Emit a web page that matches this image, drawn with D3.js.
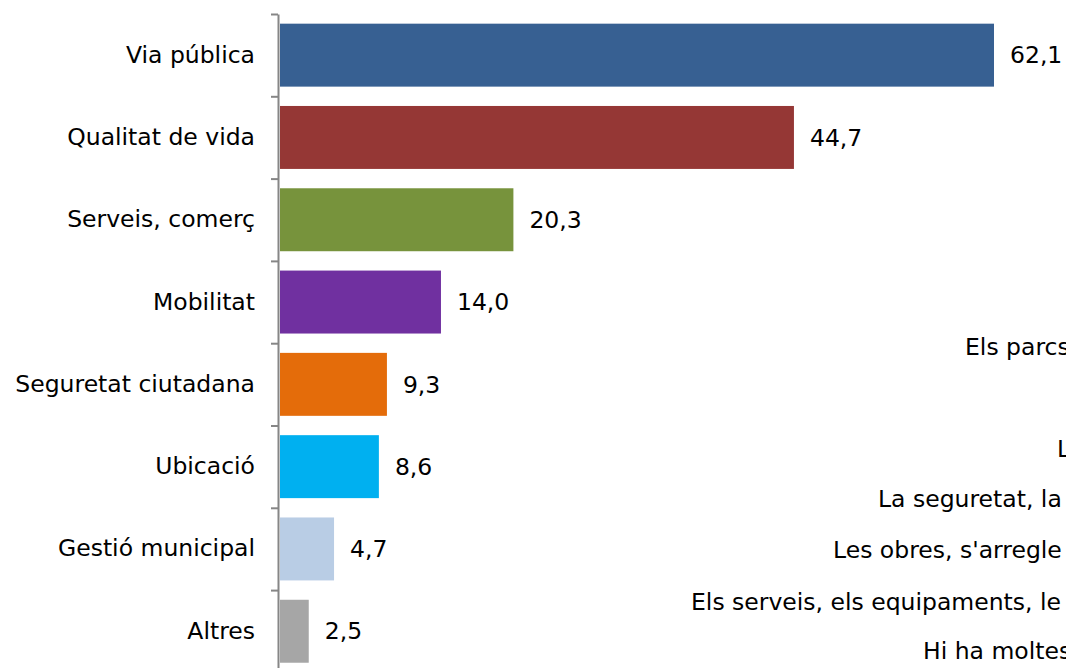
<!DOCTYPE html>
<html>
<head>
<meta charset="utf-8">
<script src="https://cdn.jsdelivr.net/npm/d3@7"></script>
<style>
html,body{margin:0;padding:0;background:#fff;overflow:hidden;}
svg{display:block;}
text{font-family:"DejaVu Sans",Verdana,sans-serif;}
</style>
</head>
<body>
<svg id="chart" width="1066" height="668"></svg>
<script>
const categories = ["Via pública","Qualitat de vida","Serveis, comerç","Mobilitat","Seguretat ciutadana","Ubicació","Gestió municipal","Altres"];
const values = [62.1, 44.7, 20.3, 14.0, 9.3, 8.6, 4.7, 2.5];
const barColors = ["#376092","#953735","#77933C","#7030A0","#E46C0A","#00B0F0","#B9CDE5","#A6A6A6"];
const sideTexts = ["Els parcs","L","La seguretat, la","Les obres, s'arregle","Els serveis, els equipaments, le","Hi ha moltes"];
const sideTextX = [965, 1057, 878, 833, 691, 923];
const sideTextY = [355, 457, 507, 558, 610, 659];

const FS = 23.5;
const svg = d3.select("#chart");
const plotTop = 14, step = 82.3;
const y = d3.scaleBand().domain(categories).range([plotTop, plotTop + step * categories.length]).paddingInner(0.235).paddingOuter(0.1175);
const x = d3.scaleLinear().domain([0, 62.1]).range([280, 994]);

// bars
svg.append("g").selectAll("rect").data(categories).join("rect")
  .attr("x", x(0))
  .attr("y", d => y(d))
  .attr("width", (d,i) => x(values[i]) - x(0))
  .attr("height", y.bandwidth())
  .attr("fill", (d,i) => barColors[i]);

// value labels
const fmt = v => d3.format(".1f")(v).replace(".", ",");
svg.append("g").selectAll("text").data(categories).join("text")
  .attr("x", (d,i) => x(values[i]) + 16)
  .attr("y", d => y(d) + y.bandwidth()/2)
  .attr("dy", "0.35em")
  .attr("font-size", FS)
  .attr("fill", "#000")
  .text((d,i) => fmt(values[i]));

// axis with category labels
const yAxis = svg.append("g").attr("transform", "translate(278,0)")
  .call(d3.axisLeft(y).tickSize(0).tickPadding(23));
yAxis.selectAll("text").attr("font-size", FS).attr("fill", "#000").style("font-family", "'DejaVu Sans',Verdana,sans-serif");
yAxis.select(".domain").remove();

// boundary ticks
const yIdx = d3.scaleLinear().domain([0, categories.length]).range([plotTop, plotTop + step * categories.length]);
const tickAxis = svg.append("g").attr("transform", "translate(278,0)")
  .call(d3.axisLeft(yIdx).tickValues(d3.range(0, categories.length + 1)).tickFormat("").tickSizeInner(7).tickSizeOuter(0));
tickAxis.selectAll(".tick line").attr("stroke", "#868686").attr("stroke-width", 2);
tickAxis.select(".domain").attr("stroke", "#868686").attr("stroke-width", 2);

// side texts (partly outside the frame, as in the original)
svg.append("g").selectAll("text").data(sideTexts).join("text")
  .attr("x", (d,i) => sideTextX[i])
  .attr("y", (d,i) => sideTextY[i])
  .attr("font-size", FS)
  .attr("fill", "#000")
  .text(d => d);
</script>
</body>
</html>
